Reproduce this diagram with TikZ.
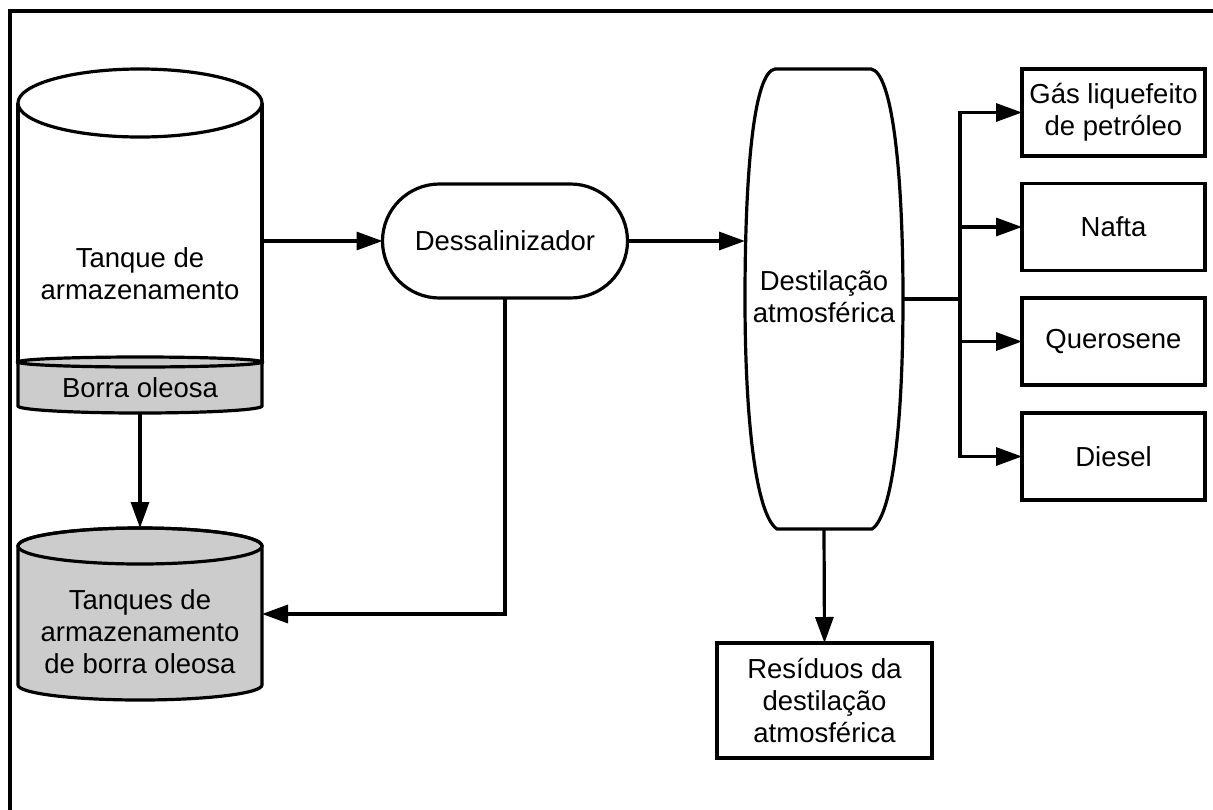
\documentclass[tikz,border=0pt]{standalone}
\usepackage{fontspec}
\setmainfont{Liberation Sans}
\usetikzlibrary{arrows.meta}
\definecolor{sludgegray}{RGB}{204,204,204}
\begin{document}
\begin{tikzpicture}[x=1pt,y=-1pt,
  every node/.style={font=\fontsize{27.5}{32}\selectfont, align=center, inner sep=0pt, outer sep=0pt},
  ln/.style={line width=3.2pt, line join=miter},
  arr/.style={ln, -{Triangle[length=26pt,width=18pt]}},
  prodbox/.style={draw, ln, minimum width=183pt, minimum height=87pt},
  ghost/.style={draw=none, rectangle, minimum width=#1},
  ghost/.default=0pt]
\useasboundingbox (0,0) rectangle (1213,809);
% frame
\draw[line width=3.4pt] (10,812) -- (10,11) -- (1216,11);

% ---- storage tank ----
\draw[ln, fill=white] (18,103) -- (18,362) -- (262,362) -- (262,103);
\draw[ln, fill=white] (140,103) ellipse [x radius=122, y radius=34];
\filldraw[ln, fill=sludgegray] (18,362) -- (18,406)
  arc[start angle=180, end angle=0, x radius=122, y radius=7]
  -- (262,362) -- cycle;
\filldraw[ln, fill=sludgegray] (140,362) ellipse [x radius=122, y radius=5];
\node[ghost, minimum width=244pt, minimum height=344pt] (tank) at (140,241) {};
\node (tanktxt) at (140,274) {Tanque de\\armazenamento};
\node (borra) at (140,388) {Borra oleosa};

% ---- sludge storage tanks ----
\filldraw[ln, fill=sludgegray] (18,546) -- (18,685)
  arc[start angle=180, end angle=0, x radius=122, y radius=15]
  -- (262,546) arc[start angle=0, end angle=-180, x radius=122, y radius=18] -- cycle;
\draw[ln] (140,546) ellipse [x radius=122, y radius=18];
\node[ghost, minimum width=244pt, minimum height=172pt] (sludge) at (140,614) {};
\node (sludgetxt) at (140,632) {Tanques de\\armazenamento\\de borra oleosa};

% ---- desalter ----
\node[draw, ln, rounded corners=57pt, minimum width=245pt, minimum height=114pt] (dessal) at (505,241) {Dessalinizador};

% ---- atmospheric distillation column ----
\draw[ln, fill=white] (775,69) -- (871,69)
  .. controls (892,72) and (903,170) .. (903,299)
  .. controls (903,420) and (893,515) .. (872,529)
  -- (777,529)
  .. controls (756,515) and (745,420) .. (745,299)
  .. controls (745,170) and (754,72) .. (775,69) -- cycle;
\node[ghost, minimum width=158pt, minimum height=460pt] (col) at (824,299) {};
\node (coltxt) at (824,297) {Destila\c{c}\~ao\\atmosf\'erica};

% ---- products ----
\node[prodbox] (gas) at (1113.5,112.5) {G\'as liquefeito\\de petr\'oleo};
\node[prodbox] (nafta) at (1113.5,227) {Nafta};
\node[prodbox] (quer) at (1113.5,341.5) {Querosene};
\node[prodbox] (diesel) at (1113.5,456.5) {Diesel};
\node[draw, ln, minimum width=215pt, minimum height=115pt] (res) at (824.5,700.5) {Res\'iduos da\\destila\c{c}\~ao\\atmosf\'erica};

\coordinate (br) at (960,299);

% ---- connectors ----
\draw[arr] (tank.east) -- (dessal.west);
\draw[arr] (tank.south) -- (sludge.north);
\draw[arr] (dessal.south) |- (sludge.east);
\draw[arr] (dessal.east) -- (dessal.east -| col.west);
\draw[ln] (col.east) -- (br);
\draw[arr] (br) |- (gas.west);
\draw[arr] (br) |- (nafta.west);
\draw[arr] (br) |- (quer.west);
\draw[arr] (br) |- (diesel.west);
\draw[arr] (col.south) -- (res.north);
\end{tikzpicture}
\end{document}
